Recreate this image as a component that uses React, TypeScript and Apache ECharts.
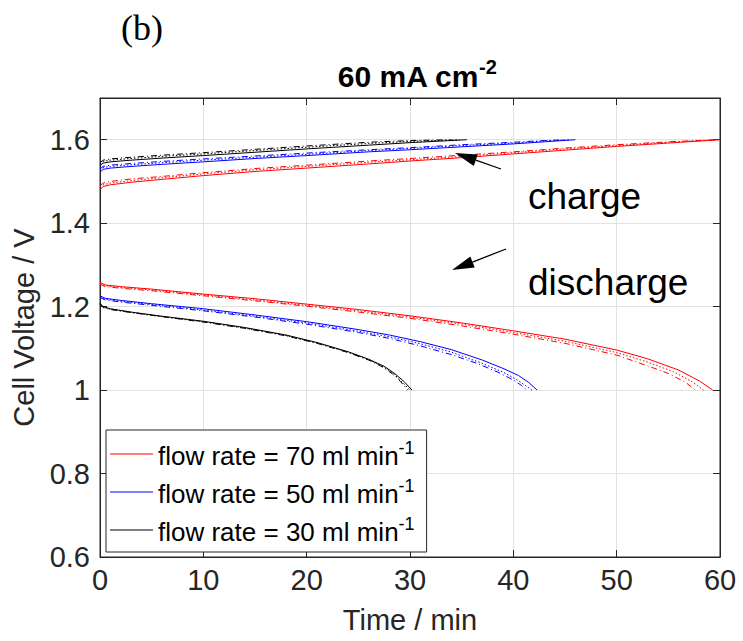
import React, { useEffect, useRef } from "react";
import * as echarts from "echarts";

// ---------- data ----------
const N70 = "flow rate = 70 ml min";
const N50 = "flow rate = 50 ml min";
const N30 = "flow rate = 30 ml min";

const xTicks = [0, 10, 20, 30, 40, 50, 60];
const yTickLabels = ["0.6", "0.8", "1", "1.2", "1.4", "1.6"];

// charge, 70 ml/min
const tC70a = [0, 0.3, 1, 3, 6, 10, 15, 20, 26, 30, 35, 40, 45, 50, 55, 60];
const vC70a = [1.48, 1.488, 1.492, 1.498, 1.505, 1.514, 1.524, 1.532, 1.542, 1.549, 1.557, 1.566, 1.575, 1.584, 1.592, 1.6];
const tC70b = [0, 0.3, 1, 3, 6, 10, 15, 20, 26, 30, 35, 40, 45, 50, 55, 59.5];
const vC70b = [1.49, 1.496, 1.5, 1.506, 1.512, 1.521, 1.531, 1.539, 1.549, 1.555, 1.563, 1.571, 1.58, 1.588, 1.595, 1.6];
const tC70c = [0, 0.3, 1, 3, 6, 10, 15, 20, 26, 30, 35, 40, 45, 50, 55, 59.8];
const vC70c = [1.486, 1.492, 1.496, 1.502, 1.509, 1.518, 1.528, 1.536, 1.546, 1.552, 1.56, 1.569, 1.578, 1.586, 1.594, 1.6];

// charge, 50 ml/min
const tC50a = [0, 0.3, 1, 3, 6, 10, 15, 20, 26, 30, 35, 40, 43, 46];
const vC50a = [1.522, 1.529, 1.532, 1.536, 1.541, 1.547, 1.555, 1.562, 1.571, 1.576, 1.583, 1.59, 1.595, 1.6];
const tC50b = [0, 0.3, 1, 3, 6, 10, 15, 20, 26, 30, 35, 40, 43, 45];
const vC50b = [1.53, 1.536, 1.539, 1.543, 1.548, 1.554, 1.561, 1.568, 1.576, 1.581, 1.588, 1.594, 1.598, 1.6];
const tC50c = [0, 0.3, 1, 3, 6, 10, 15, 20, 26, 30, 35, 40, 43, 45.5];
const vC50c = [1.527, 1.533, 1.536, 1.54, 1.545, 1.551, 1.558, 1.565, 1.574, 1.579, 1.586, 1.592, 1.597, 1.6];

// charge, 30 ml/min
const tC30a = [0, 0.3, 1, 3, 6, 10, 15, 20, 26, 30, 35.5];
const vC30a = [1.538, 1.544, 1.547, 1.551, 1.556, 1.562, 1.57, 1.578, 1.587, 1.593, 1.6];
const tC30b = [0, 0.3, 1, 3, 6, 10, 15, 20, 26, 30, 34];
const vC30b = [1.545, 1.551, 1.554, 1.558, 1.563, 1.569, 1.577, 1.585, 1.594, 1.598, 1.6];
const tC30c = [0, 0.3, 1, 3, 6, 10, 15, 20, 26, 30, 34.8];
const vC30c = [1.542, 1.548, 1.551, 1.555, 1.56, 1.566, 1.574, 1.582, 1.591, 1.596, 1.6];

// discharge, 70 ml/min
const tD70a = [0, 0.5, 2, 5, 10, 15, 20, 25, 30, 35, 40, 45, 50, 53, 56, 58, 59.3];
const vD70a = [1.258, 1.252, 1.248, 1.242, 1.23, 1.219, 1.206, 1.193, 1.178, 1.161, 1.142, 1.122, 1.096, 1.075, 1.048, 1.022, 1.0];
const tD70b = [0, 0.5, 2, 5, 10, 15, 20, 25, 30, 35, 40, 45, 50, 53, 55, 56.7, 57.6];
const vD70b = [1.254, 1.248, 1.244, 1.238, 1.226, 1.214, 1.201, 1.187, 1.172, 1.154, 1.134, 1.112, 1.084, 1.058, 1.04, 1.018, 1.0];
const tD70c = [0, 0.5, 2, 5, 10, 15, 20, 25, 30, 35, 40, 45, 50, 53, 55.5, 57.3, 58.4];
const vD70c = [1.256, 1.25, 1.246, 1.24, 1.228, 1.216, 1.203, 1.19, 1.175, 1.158, 1.138, 1.117, 1.09, 1.067, 1.044, 1.02, 1.0];

// discharge, 50 ml/min
const tD50a = [0, 0.5, 2, 5, 10, 15, 20, 25, 28, 31, 34, 37, 39, 40.5, 41.5, 42.3];
const vD50a = [1.226, 1.22, 1.215, 1.207, 1.195, 1.18, 1.164, 1.145, 1.132, 1.116, 1.097, 1.072, 1.052, 1.035, 1.018, 1.0];
const tD50b = [0, 0.5, 2, 5, 10, 15, 20, 25, 28, 31, 34, 36.5, 38.5, 40, 40.8, 41.3];
const vD50b = [1.222, 1.216, 1.211, 1.203, 1.19, 1.175, 1.158, 1.138, 1.124, 1.106, 1.085, 1.064, 1.043, 1.024, 1.011, 1.0];
const tD50c = [0, 0.5, 2, 5, 10, 15, 20, 25, 28, 31, 34, 37, 39, 40.2, 41.1, 41.8];
const vD50c = [1.224, 1.218, 1.213, 1.205, 1.192, 1.177, 1.161, 1.141, 1.128, 1.111, 1.091, 1.064, 1.043, 1.027, 1.012, 1.0];

// discharge, 30 ml/min
const tD30a = [0, 0.3, 1, 3, 6, 10, 14, 18, 21, 24, 26, 27.5, 28.5, 29.4, 30.2];
const vD30a = [1.208, 1.2, 1.195, 1.187, 1.177, 1.165, 1.15, 1.132, 1.114, 1.092, 1.074, 1.057, 1.04, 1.021, 1.0];
const tD30b = [0, 0.3, 1, 3, 6, 10, 14, 18, 21, 24, 26, 27.3, 28.3, 29.1, 29.8];
const vD30b = [1.206, 1.198, 1.193, 1.186, 1.176, 1.163, 1.148, 1.13, 1.112, 1.09, 1.072, 1.056, 1.039, 1.02, 1.0];
const tD30c = [0, 0.3, 1, 3, 6, 10, 14, 18, 21, 24, 26, 27.4, 28.4, 29.2, 30.0];
const vD30c = [1.207, 1.199, 1.194, 1.186, 1.176, 1.164, 1.149, 1.131, 1.113, 1.091, 1.073, 1.056, 1.04, 1.02, 1.0];

// ---------- styling ----------
const FONT = '"Liberation Sans", Arial, Helvetica, sans-serif';
const AX = "#262626";
const GRIDC = "#e2e2e2";
const RED = "#ff0000";
const BLUE = "#0000ff";
const BLACK = "#000000";
const SOLID = "solid";
const DASHDOT = [6, 3, 1, 3];
const DOTTED = [1.5, 2];

function mk(name: string, color: string, t: number[], v: number[], type: any) {
  return {
    type: "line",
    name,
    data: t.map((x, i) => [x, v[i]]),
    symbol: "none",
    silent: true,
    lineStyle: { color, width: 1, type },
    itemStyle: { color },
  };
}

function arrow(x1: number, y1: number, x2: number, y2: number, len: number, half: number) {
  const dx = x2 - x1;
  const dy = y2 - y1;
  const L = Math.hypot(dx, dy);
  const ux = dx / L;
  const uy = dy / L;
  const bx = x2 - ux * len;
  const by = y2 - uy * len;
  const nx = -uy;
  const ny = ux;
  return [
    { type: "line", shape: { x1, y1, x2: bx, y2: by }, style: { stroke: "#000", lineWidth: 1.3 }, silent: true },
    {
      type: "polygon",
      shape: { points: [[x2, y2], [bx + nx * half, by + ny * half], [bx - nx * half, by - ny * half]] },
      style: { fill: "#000" },
      silent: true,
    },
  ];
}

export default function App() {
  const ref = useRef<HTMLDivElement>(null);
  useEffect(() => {
    if (!ref.current) return;
    const chart = echarts.init(ref.current, undefined, { renderer: "svg" });
    const axisCommon = {
      type: "value",
      axisLine: { show: true, onZero: false, lineStyle: { color: AX, width: 1 } },
      axisTick: { show: true, inside: true, length: 7, lineStyle: { color: AX } },
    };
    const option: any = {
      animation: false,
      backgroundColor: "#ffffff",
      textStyle: { fontFamily: FONT },
      title: {
        text: "{a|60 mA cm}{s|-2}",
        left: 412,
        top: 52,
        textAlign: "center",
        textStyle: {
          rich: {
            a: { fontFamily: FONT, fontSize: 30, fontWeight: "bold", color: "#000", lineHeight: 34, verticalAlign: "bottom" },
            s: { fontFamily: FONT, fontSize: 20, fontWeight: "bold", color: "#000", lineHeight: 12, verticalAlign: "top" },
          },
        },
      },
      grid: {
        left: 100,
        right: 23,
        top: 98,
        bottom: 84,
        show: true,
        borderColor: AX,
        borderWidth: 1,
        backgroundColor: "#fff",
      },
      legend: {
        data: [N70, N50, N30],
        orient: "vertical",
        left: 106,
        top: 430,
        icon: "rect",
        itemWidth: 43,
        itemHeight: 1.2,
        itemGap: 8,
        padding: [9, 12, 7, 4],
        backgroundColor: "#fff",
        borderColor: AX,
        borderWidth: 1,
        borderRadius: 0,
        selectedMode: false,
        formatter: (name: string) => `{a|${name}}{s|-1}`,
        textStyle: {
          rich: {
            a: { fontFamily: FONT, fontSize: 26, color: "#000", lineHeight: 30, verticalAlign: "bottom" },
            s: { fontFamily: FONT, fontSize: 18, color: "#000", lineHeight: 10, verticalAlign: "top" },
          },
        },
      },
      xAxis: [
        {
          ...axisCommon,
          position: "bottom",
          min: 0,
          max: 60,
          interval: 10,
          name: "Time / min",
          nameLocation: "middle",
          nameGap: 48,
          nameTextStyle: { fontFamily: FONT, fontSize: 29, color: AX },
          axisLabel: {
            fontFamily: FONT,
            fontSize: 29,
            color: AX,
            margin: 8,
            formatter: (v: number) => (xTicks.includes(v) ? String(v) : ""),
          },
          splitLine: { show: true, lineStyle: { color: GRIDC, width: 1 } },
        },
        {
          ...axisCommon,
          position: "top",
          min: 0,
          max: 60,
          interval: 10,
          axisLabel: { show: false },
          splitLine: { show: false },
        },
      ],
      yAxis: [
        {
          ...axisCommon,
          position: "left",
          min: 0.6,
          max: 1.7,
          interval: 0.2,
          name: "Cell Voltage / V",
          nameLocation: "middle",
          nameGap: 62,
          nameTextStyle: { fontFamily: FONT, fontSize: 29, color: AX },
          axisLabel: {
            fontFamily: FONT,
            fontSize: 29,
            color: AX,
            margin: 10,
            formatter: (v: number) => {
              const s = String(Math.round(v * 100) / 100);
              return yTickLabels.includes(s) ? s : "";
            },
          },
          splitLine: { show: true, lineStyle: { color: GRIDC, width: 1 } },
        },
        {
          ...axisCommon,
          position: "right",
          min: 0.6,
          max: 1.7,
          interval: 0.2,
          axisLabel: { show: false },
          splitLine: { show: false },
        },
      ],
      series: [
        mk(N70, RED, tC70a, vC70a, SOLID),
        mk(N70 + " run2", RED, tC70b, vC70b, DASHDOT),
        mk(N70 + " run3", RED, tC70c, vC70c, DOTTED),
        mk(N70, RED, tD70a, vD70a, SOLID),
        mk(N70 + " run2", RED, tD70b, vD70b, DASHDOT),
        mk(N70 + " run3", RED, tD70c, vD70c, DOTTED),
        mk(N50, BLUE, tC50a, vC50a, SOLID),
        mk(N50 + " run2", BLUE, tC50b, vC50b, DASHDOT),
        mk(N50 + " run3", BLUE, tC50c, vC50c, DOTTED),
        mk(N50, BLUE, tD50a, vD50a, SOLID),
        mk(N50 + " run2", BLUE, tD50b, vD50b, DASHDOT),
        mk(N50 + " run3", BLUE, tD50c, vD50c, DOTTED),
        mk(N30, BLACK, tC30a, vC30a, SOLID),
        mk(N30 + " run2", BLACK, tC30b, vC30b, DASHDOT),
        mk(N30 + " run3", BLACK, tC30c, vC30c, DOTTED),
        mk(N30, BLACK, tD30a, vD30a, SOLID),
        mk(N30 + " run2", BLACK, tD30b, vD30b, DASHDOT),
        mk(N30 + " run3", BLACK, tD30c, vD30c, DOTTED),
      ],
      graphic: [
        {
          type: "text",
          left: 121,
          top: 10,
          style: { text: "(b)", font: '36px "Liberation Serif", "Times New Roman", serif', fill: "#000" },
        },
        {
          type: "text",
          x: 528,
          y: 196,
          style: { text: "charge", font: `37px ${FONT}`, fill: "#000", verticalAlign: "middle" },
          z: 100,
        },
        {
          type: "text",
          x: 528,
          y: 282,
          style: { text: "discharge", font: `37px ${FONT}`, fill: "#000", verticalAlign: "middle" },
          z: 100,
        },
        ...arrow(501, 169, 455, 153, 22, 6).map((e: any) => ({ ...e, z: 100 })),
        ...arrow(506, 249, 452, 270, 22, 6).map((e: any) => ({ ...e, z: 100 })),
      ],
    };
    chart.setOption(option);
    return () => chart.dispose();
  }, []);
  return (
    <div
      ref={ref}
      style={{ position: "fixed", left: 0, top: 0, width: 743, height: 641, background: "#fff" }}
    />
  );
}
